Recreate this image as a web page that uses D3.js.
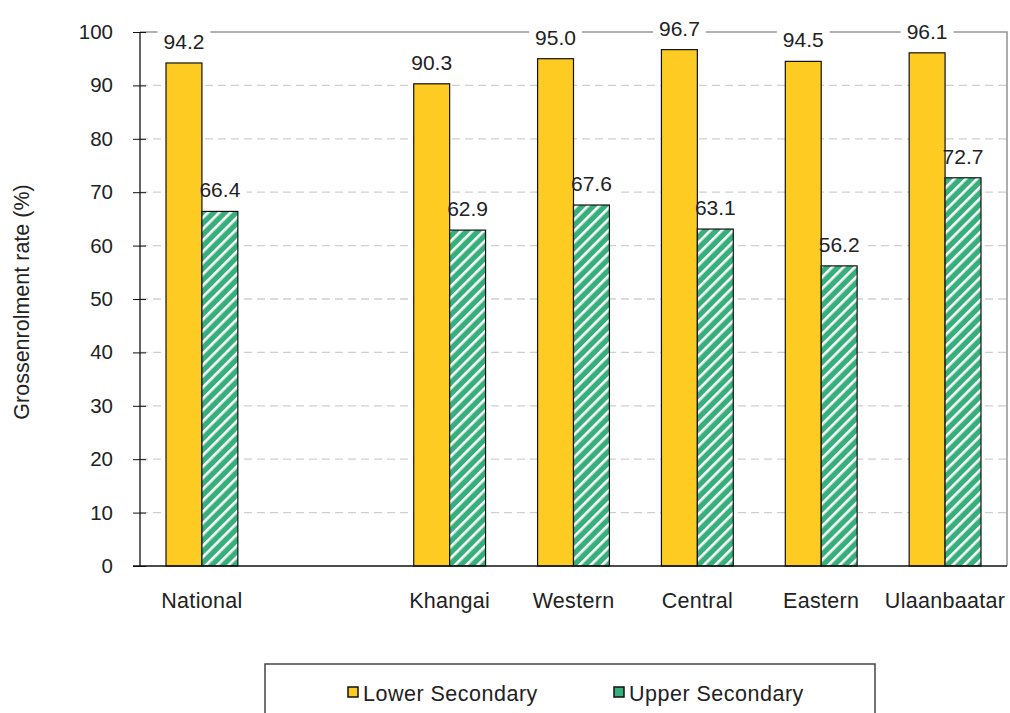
<!DOCTYPE html>
<html><head><meta charset="utf-8">
<script src="https://cdn.jsdelivr.net/npm/d3@7"></script>
<style>body{margin:0;background:#fff}svg{display:block}text{font-family:"Liberation Sans",Arial,sans-serif}</style>
</head><body>
<svg id="c" width="1010" height="713"></svg>
<script>
const categories = ["National", "", "Khangai", "Western", "Central", "Eastern", "Ulaanbaatar"];
const seriesNames = ["Lower Secondary", "Upper Secondary"];
const lowerSecondary = [94.2, null, 90.3, 95.0, 96.7, 94.5, 96.1];
const upperSecondary = [66.4, null, 62.9, 67.6, 63.1, 56.2, 72.7];
const yTicks = [0, 10, 20, 30, 40, 50, 60, 70, 80, 90, 100];

const svg = d3.select("#c");
const L = 140, R = 1007, T = 32, B = 566;
const FS = 21;
const keys = categories.map((c, i) => i);
const x = d3.scaleBand().domain(keys).range([L, R]).paddingInner(0.42).paddingOuter(0.21);
const xs = d3.scaleBand().domain([0, 1]).range([0, x.bandwidth()]);
const y = d3.scaleLinear().domain([0, 100]).range([B, T]);

const defs = svg.append("defs");
const pat = defs.append("pattern").attr("id", "hatch").attr("patternUnits", "userSpaceOnUse")
  .attr("width", 8).attr("height", 8).attr("patternTransform", "rotate(45)");
pat.append("rect").attr("width", 8).attr("height", 8).attr("fill", "#36AF7B");
pat.append("rect").attr("x", 0).attr("width", 2.6).attr("height", 8).attr("fill", "#fff");

// gridlines
svg.append("g").selectAll("line").data(yTicks.filter(t => t > 0 && t < 100)).join("line")
  .attr("x1", L).attr("x2", R).attr("y1", d => y(d)).attr("y2", d => y(d))
  .attr("stroke", "#cfcfcf").attr("stroke-dasharray", "8,5").attr("stroke-width", 1.3);
// plot border top/right
svg.append("path").attr("d", `M${L},${y(100)}H${R}V${B}`).attr("fill", "none")
  .attr("stroke", "#999").attr("stroke-width", 1.6);

const data = categories.map((c, i) => ({i, c, v: [lowerSecondary[i], upperSecondary[i]]}));
const fills = ["#FDCB21", "url(#hatch)"];
const bgLayer = svg.append("g");
const g = svg.append("g");
data.forEach(d => {
  d.v.forEach((v, s) => {
    if (v == null) return;
    g.append("rect").attr("x", x(d.i) + xs(s)).attr("width", xs.bandwidth())
      .attr("y", y(v)).attr("height", B - y(v))
      .attr("fill", fills[s]).attr("stroke", "#111").attr("stroke-width", 1.2);
  });
});

// axes
const ya = svg.append("g").attr("transform", `translate(${L},0)`)
  .call(d3.axisLeft(y).tickValues(yTicks).tickSize(7).tickPadding(20));
ya.selectAll(".tick line").attr("x2", -7).attr("x1", 6).attr("stroke", "#111");
ya.select(".domain").attr("d", `M0,${y(100)}V${B}`).attr("stroke", "#111").attr("stroke-width", 1.3);
ya.selectAll("text").attr("font-size", 20.5).attr("fill", "#222").attr("font-family", "Liberation Sans, Arial");

svg.append("line").attr("x1", L - 7).attr("x2", R).attr("y1", B).attr("y2", B).attr("stroke", "#111").attr("stroke-width", 1.3);

const xa = svg.append("g").attr("transform", `translate(0,${B})`)
  .call(d3.axisBottom(x).tickSize(0).tickPadding(27).tickFormat(i => categories[i]));
xa.select(".domain").remove();
xa.selectAll("text").attr("font-size", 21.5).attr("letter-spacing", 0.3).attr("fill", "#222").attr("font-family", "Liberation Sans, Arial");

// data labels
const lg = svg.append("g");
data.forEach(d => {
  d.v.forEach((v, s) => {
    if (v == null) return;
    const cx = x(d.i) + xs(s) + xs.bandwidth() / 2;
    const by = y(v) - 14;
    const t = lg.append("text").attr("x", cx).attr("y", by).attr("text-anchor", "middle")
      .attr("font-size", FS).attr("fill", "#222").text(v.toFixed(1));
    const bb = t.node().getBBox();
    bgLayer.append("rect").attr("x", bb.x - 6).attr("y", bb.y).attr("width", bb.width + 12).attr("height", bb.height).attr("fill", "#fff");
  });
});

// y title
svg.append("text").attr("transform", "translate(29,302) rotate(-90)").attr("text-anchor", "middle")
  .attr("font-size", 21.5).attr("fill", "#222").text("Grossenrolment rate (%)");

// legend
const leg = svg.append("g");
leg.append("rect").attr("x", 265).attr("y", 664).attr("width", 610).attr("height", 70)
  .attr("fill", "#fff").attr("stroke", "#444").attr("stroke-width", 1.5);
const legX = [348, 614];
seriesNames.forEach((n, s) => {
  leg.append("rect").attr("x", legX[s]).attr("y", 687).attr("width", 10).attr("height", 10)
    .attr("fill", s ? "#36AF7B" : "#FDCB21").attr("stroke", "#111").attr("stroke-width", 1.5);
  leg.append("text").attr("x", legX[s] + 15).attr("y", 701).attr("font-size", 21.5).attr("letter-spacing", 0.5).attr("fill", "#222").text(n);
});
</script>
</body></html>
